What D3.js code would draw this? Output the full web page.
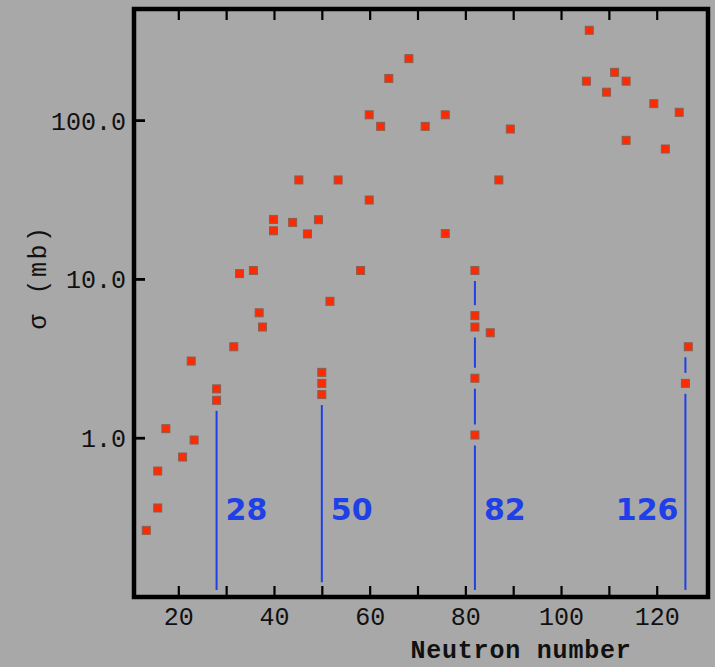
<!DOCTYPE html>
<html>
<head>
<meta charset="utf-8">
<script src="https://cdn.jsdelivr.net/npm/d3@7"></script>
<style>
  html, body { margin: 0; padding: 0; background: #a8a8a8; }
  svg { display: block; }
</style>
</head>
<body>
<svg id="chart" width="715" height="667"></svg>
<script>
// ---- data ----
const neutronNumbers = [13.3,15.7,15.7,17.4,20.9,22.7,23.3,28,28,31.6,32.8,35.7,36.9,37.6,39.9,39.9,43.9,45.2,47.0,49.3,
  50,50,50,51.7,53.4,58.1,59.9,59.9,62.3,64.0,68.2,71.6,75.8,75.8,82,82,82,82,82,85.2,87.0,89.4,
  105.3,105.9,109.5,111.2,113.6,113.6,119.4,121.8,124.7,126,126.6];
const crossSections = [0.261,0.361,0.617,1.14,0.756,3.04,0.967,2.03,1.72,3.74,10.8,11.3,6.12,4.98,23.7,20.1,22.7,42.0,19.2,23.6,
  2.58,2.20,1.87,7.23,42.0,11.3,108,31.4,91.4,183,244,91.4,108,19.3,11.3,5.87,4.98,2.37,1.04,4.58,42.0,87.9,
  176,368,150,200,176,74.6,127,65.8,112,2.20,3.74];
const magicNumbers = [28, 50, 82, 126];
const magicLineBottom = [0.11, 0.123, 0.11, 0.11];
const magicLabelValue = 0.303;
const xTicks = [20,30,40,50,60,70,80,90,100,110,120];
const xTickLabels = ["20","","40","","60","","80","","100","","120"];
const yTicks = [1, 10, 100];
const yTickLabels = ["1.0", "10.0", "100.0"];
const xTitle = "Neutron number";
const yTitle = "σ (mb)";

// ---- layout ----
const plotLeft = 134, plotRight = 708, plotTop = 9, plotBottom = 597;
const svg = d3.select("#chart");
const monoFont = "'Liberation Mono', 'DejaVu Sans Mono', monospace";

const x = d3.scaleLinear().domain([10.74, 130.72]).range([plotLeft, plotRight]);
const y = d3.scaleLog().domain([0.0993, 501]).range([plotBottom, plotTop]);

const points = neutronNumbers.map((n, i) => ({n, s: crossSections[i]}));

// ---- magic number lines (broken around points) ----
const gap = 10.5;
const blue = "#1e40e6";
magicNumbers.forEach((m, i) => {
  const near = points.filter(p => Math.abs(p.n - m) < 0.65).map(p => y(p.s)).sort((a, b) => a - b);
  const yBot = y(magicLineBottom[i]);
  const yTop = near.length ? near[0] + gap : y(1);
  let segs = [[yTop, yBot]];
  near.forEach(py => {
    const out = [];
    segs.forEach(([a, b]) => {
      const c0 = py - gap, c1 = py + gap;
      if (c1 <= a || c0 >= b) { out.push([a, b]); return; }
      if (c0 > a) out.push([a, c0]);
      if (c1 < b) out.push([c1, b]);
    });
    segs = out;
  });
  segs.filter(([a, b]) => b - a > 1).forEach(([a, b]) => {
    svg.append("line")
      .attr("x1", x(m)).attr("x2", x(m))
      .attr("y1", a).attr("y2", b)
      .attr("stroke", blue).attr("stroke-width", 2);
  });
  const last = i === magicNumbers.length - 1;
  svg.append("text")
    .attr("x", last ? x(m) - 7 : x(m) + 9)
    .attr("y", y(magicLabelValue))
    .attr("text-anchor", last ? "end" : "start")
    .attr("font-family", "'DejaVu Sans', sans-serif")
    .attr("font-weight", "bold")
    .attr("font-size", 30)
    .attr("fill", blue)
    .text(m);
});

// ---- points ----
const sz = 8;
svg.append("g").selectAll("rect").data(points).join("rect")
  .attr("x", d => x(d.n) - sz / 2)
  .attr("y", d => y(d.s) - sz / 2)
  .attr("width", sz).attr("height", sz)
  .attr("fill", "#ff2a00")
  .attr("stroke", "#8a5e52").attr("stroke-width", 1);

// ---- axes ----
const xAxisBottom = d3.axisBottom(x).tickValues(xTicks).tickSize(-11)
  .tickFormat((d, i) => xTickLabels[i]);
const gxb = svg.append("g").attr("transform", `translate(0,${plotBottom})`).call(xAxisBottom);
gxb.select(".domain").remove();
gxb.selectAll(".tick line").attr("stroke", "#000").attr("stroke-width", 2.2);
gxb.selectAll(".tick text")
  .attr("y", 28).attr("dy", 0)
  .attr("font-family", monoFont).attr("font-size", 25).attr("fill", "#111");

const xAxisTop = d3.axisTop(x).tickValues(xTicks).tickSize(-11).tickFormat("");
const gxt = svg.append("g").attr("transform", `translate(0,${plotTop})`).call(xAxisTop);
gxt.select(".domain").remove();
gxt.selectAll(".tick line").attr("stroke", "#000").attr("stroke-width", 2.2);

const yAxis = d3.axisLeft(y).tickValues(yTicks).tickSize(-11)
  .tickFormat((d, i) => yTickLabels[i]);
const gy = svg.append("g").attr("transform", `translate(${plotLeft},0)`).call(yAxis);
gy.select(".domain").remove();
gy.selectAll(".tick line").attr("stroke", "#000").attr("stroke-width", 2.8);
gy.selectAll(".tick text")
  .attr("x", -8).attr("dy", 9)
  .attr("text-anchor", "end")
  .attr("font-family", monoFont).attr("font-size", 25).attr("fill", "#111");

// ---- frame ----
svg.append("rect")
  .attr("x", plotLeft).attr("y", plotTop)
  .attr("width", plotRight - plotLeft).attr("height", plotBottom - plotTop)
  .attr("fill", "none").attr("stroke", "#000").attr("stroke-width", 4.5);

// ---- titles ----
svg.append("text")
  .attr("x", 521).attr("y", 658)
  .attr("text-anchor", "middle")
  .attr("font-family", monoFont).attr("font-weight", "bold")
  .attr("font-size", 25).attr("letter-spacing", 0.8)
  .attr("fill", "#111")
  .text(xTitle);

svg.append("text")
  .attr("transform", "translate(46,277) rotate(-90)")
  .attr("text-anchor", "middle")
  .attr("font-family", monoFont)
  .attr("font-size", 25).attr("letter-spacing", 2.5)
  .attr("fill", "#111")
  .text(yTitle);
</script>
</body>
</html>
